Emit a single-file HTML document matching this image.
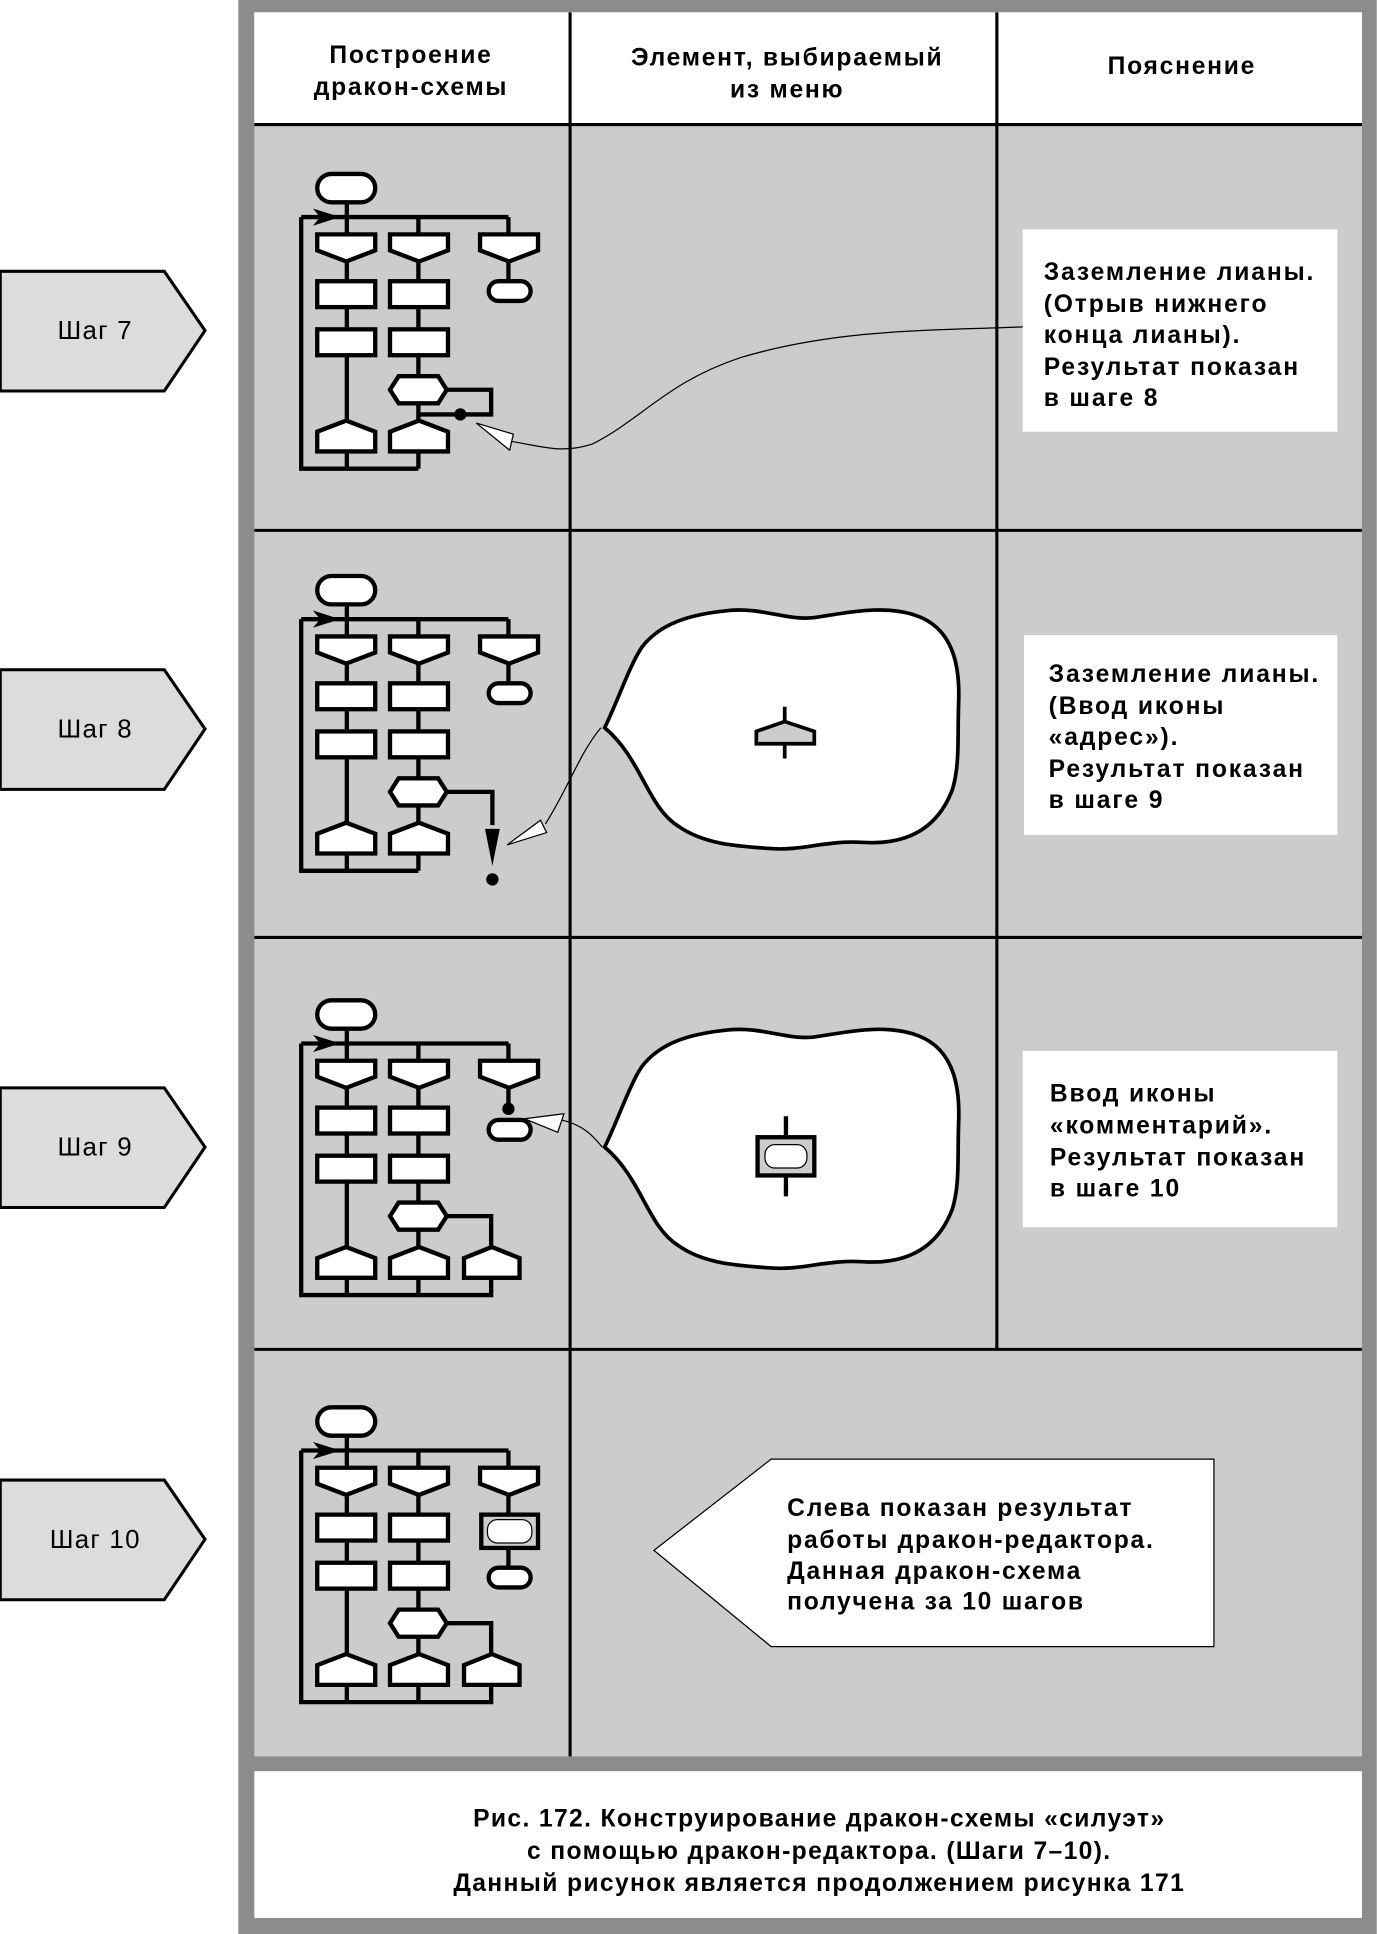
<!DOCTYPE html>
<html><head><meta charset="utf-8"><style>
html,body{margin:0;padding:0;background:#fff;}
svg{display:block;}
text{font-family:"Liberation Sans",sans-serif;font-weight:bold;fill:#000;}
</style></head><body>
<svg width="1377" height="1934" viewBox="0 0 1116 1568" xmlns="http://www.w3.org/2000/svg">
<defs>
<g id="base" stroke="#000" stroke-width="3.5" fill="#fff">
  <path d="M281,164V380M339,176V380M244,176H412M244,176V380H339M412,176V200" fill="none"/>
  <rect x="257" y="141" width="47" height="23" rx="11.5"/>
  <path d="M257,190H304V203L280.5,212L257,203Z"/>
  <path d="M316,190H363V203L339.5,212L316,203Z"/>
  <path d="M389,190H436V203L412.5,212L389,203Z"/>
  <rect x="257" y="228" width="47" height="21"/>
  <rect x="316" y="228" width="47" height="21"/>
  <rect x="257" y="267" width="47" height="21"/>
  <rect x="316" y="267" width="47" height="21"/>
  <path d="M316,316L323,305H355L362,316L355,327H323Z"/>
  <path d="M257,350L280.5,341L304,350V366H257Z"/>
  <path d="M316,350L339.5,341L363,350V366H316Z"/>
  <path d="M255,176L274,176L255,170L260,176L255,182L274,176Z" fill="#000" stroke-width="1"/>
</g>
</defs>
<rect x="193" y="0" width="923" height="1568" fill="#8c8c8c"/>
<rect x="206" y="10" width="898" height="1414" fill="#cccccc"/>
<rect x="206" y="10" width="898" height="90" fill="#fff"/>
<rect x="206" y="1436" width="898" height="119" fill="#fff"/>
<g stroke="#000" stroke-width="2.5">
<line x1="206" y1="101" x2="1104" y2="101"/>
<line x1="206" y1="430" x2="1104" y2="430"/>
<line x1="206" y1="760" x2="1104" y2="760"/>
<line x1="206" y1="1094" x2="1104" y2="1094"/>
<line x1="462" y1="10" x2="462" y2="1424"/>
<line x1="808" y1="10" x2="808" y2="1094"/>
</g>
<g font-size="20" text-anchor="middle" letter-spacing="1.4">
<text x="333" y="51">Построение</text>
<text x="333" y="77">дракон-схемы</text>
<text x="638" y="53">Элемент, выбираемый</text>
<text x="638" y="79">из меню</text>
<text x="958" y="60">Пояснение</text>
</g>
<g stroke="#000" stroke-width="2.5" fill="#dcdcdc">
<path d="M0,220H133L166,268L133,317H0Z"/>
<path d="M0,543H133L166,591L133,640H0Z"/>
<path d="M0,882H133L166,930L133,979H0Z"/>
<path d="M0,1200H133L166,1248L133,1297H0Z"/>
</g>
<g font-size="21" text-anchor="middle" letter-spacing="1">
<text x="77" y="275" style="font-weight:normal">Шаг 7</text>
<text x="77" y="598" style="font-weight:normal">Шаг 8</text>
<text x="77" y="937" style="font-weight:normal">Шаг 9</text>
<text x="77" y="1255" style="font-weight:normal">Шаг 10</text>
</g>
<!-- step 7 -->
<use href="#base"/>
<g stroke="#000" stroke-width="3.5" fill="#fff">
<path d="M412,212V230M362,316H398V336H339" fill="none"/>
<rect x="396" y="228" width="34" height="16" rx="8"/>
</g>
<circle cx="373" cy="336" r="5" fill="#000"/>
<path d="M415,358C440,362 455,368 480,360C520,340 540,310 600,290C680,266 760,268 830,265" fill="none" stroke="#000" stroke-width="1"/>
<path d="M386,343L416,352L413,365Z" fill="#fff" stroke="#000" stroke-width="1"/>
<rect x="829" y="186" width="255" height="164" fill="#fff"/>
<g font-size="20" letter-spacing="1.5">
<text x="846" y="227">Заземление лианы.</text>
<text x="846" y="253">(Отрыв нижнего</text>
<text x="846" y="278">конца лианы).</text>
<text x="846" y="304">Результат показан</text>
<text x="846" y="329">в шаге 8</text>
</g>
<!-- step 8 -->
<g transform="translate(0,326)">
<use href="#base"/>
<g stroke="#000" stroke-width="3.5" fill="#fff">
<path d="M412,212V230M362,316H399V343" fill="none"/>
<rect x="396" y="228" width="34" height="16" rx="8"/>
</g>
<path d="M393,346H405L399,376Z" fill="#000"/>
<circle cx="399" cy="387" r="5" fill="#000"/>
</g>
<path id="cl" d="M490,590C500,570 510,540 520,525C535,505 560,498 590,495C620,492 640,505 665,500C690,496 720,490 745,500C775,512 778,545 777,570C776,600 778,620 772,640C760,672 735,685 700,683C670,681 650,690 625,688C595,686 570,684 550,670C525,655 520,615 490,590Z" fill="#fff" stroke="#000" stroke-width="3"/>
<path d="M487,590C470,610 460,640 442,668" fill="none" stroke="#000" stroke-width="1"/>
<path d="M411,685L438,665L443,675Z" fill="#fff" stroke="#000" stroke-width="1"/>
<g stroke="#000" stroke-width="3">
<path d="M636,573V585M636,603V615"/>
<path d="M613,593L636,585L660,593V603H613Z" fill="#ccc"/>
</g>
<rect x="830" y="515" width="254" height="162" fill="#fff"/>
<g font-size="20" letter-spacing="1.5">
<text x="850" y="553">Заземление лианы.</text>
<text x="850" y="579">(Ввод иконы</text>
<text x="850" y="604">«адрес»).</text>
<text x="850" y="630">Результат показан</text>
<text x="850" y="655">в шаге 9</text>
</g>
<!-- step 9 -->
<g transform="translate(0,670)">
<use href="#base"/>
<g stroke="#000" stroke-width="3.5" fill="#fff">
<path d="M412,212V230M362,316H398V380H339" fill="none"/>
<path d="M376,350L398.5,341L421,350V366H376Z"/>
<rect x="396" y="238" width="34" height="16" rx="8"/>
</g>
<circle cx="412" cy="229" r="5" fill="#000"/>
</g>
<g transform="translate(0,340)">
<path d="M490,590C500,570 510,540 520,525C535,505 560,498 590,495C620,492 640,505 665,500C690,496 720,490 745,500C775,512 778,545 777,570C776,600 778,620 772,640C760,672 735,685 700,683C670,681 650,690 625,688C595,686 570,684 550,670C525,655 520,615 490,590Z" fill="#fff" stroke="#000" stroke-width="3"/>
</g>
<path d="M488,930C480,920 472,912 455,908" fill="none" stroke="#000" stroke-width="1"/>
<path d="M425,907L457,903L452,918Z" fill="#fff" stroke="#000" stroke-width="1"/>
<g stroke="#000" stroke-width="3.5">
<path d="M637,905V922M637,953V970"/>
<rect x="614" y="922" width="46" height="31" fill="#ccc"/>
<rect x="620" y="928" width="34" height="19" rx="8" fill="#fff" stroke-width="1"/>
</g>
<rect x="829" y="852" width="255" height="143" fill="#fff"/>
<g font-size="20" letter-spacing="1.5">
<text x="851" y="893">Ввод иконы</text>
<text x="851" y="919">«комментарий».</text>
<text x="851" y="945">Результат показан</text>
<text x="851" y="970">в шаге 10</text>
</g>
<!-- step 10 -->
<g transform="translate(0,1000)">
<use href="#base"/>
<g stroke="#000" stroke-width="3.5" fill="#fff">
<path d="M412,212V272M362,316H398V380H339" fill="none"/>
<path d="M376,350L398.5,341L421,350V366H376Z"/>
<rect x="390" y="228" width="46" height="27" fill="#ccc"/>
<rect x="395" y="232" width="36" height="19" rx="8" stroke-width="1"/>
<rect x="396" y="271" width="34" height="16" rx="8"/>
</g>
</g>
<path d="M530,1257L625,1183H984V1335H625Z" fill="#fff" stroke="#000" stroke-width="1"/>
<g font-size="20" letter-spacing="1.4">
<text x="638" y="1229">Слева показан результат</text>
<text x="638" y="1255">работы дракон-редактора.</text>
<text x="638" y="1280">Данная дракон-схема</text>
<text x="638" y="1305">получена за 10 шагов</text>
</g>
<g font-size="20" text-anchor="middle" letter-spacing="1.1">
<text x="664" y="1481">Рис. 172. Конструирование дракон-схемы «силуэт»</text>
<text x="664" y="1507">с помощью дракон-редактора. (Шаги 7–10).</text>
<text x="664" y="1533">Данный рисунок является продолжением рисунка 171</text>
</g>
</svg>
</body></html>
